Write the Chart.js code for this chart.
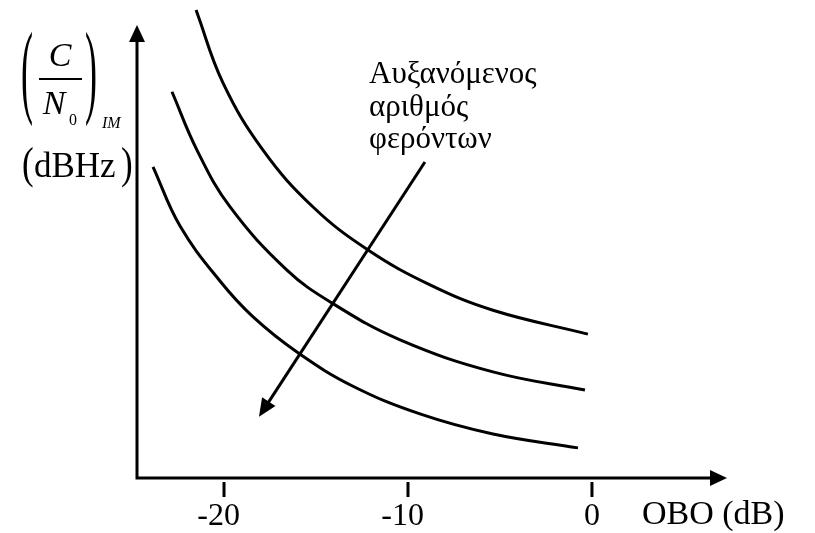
<!DOCTYPE html>
<html>
<head>
<meta charset="utf-8">
<script src="https://cdn.jsdelivr.net/npm/chart.js@4"></script>
<style>
  html, body { margin: 0; padding: 0; background: #fff; }
  canvas { display: block; }
</style>
</head>
<body>
<canvas id="c" width="815" height="533"></canvas>
<script>
// Output back-off (dB) vs (C/N0)_IM for three carrier counts (arbitrary dBHz units)
const oboFew  = [-21.52, -20.05, -17.88, -15.16, -12.17, -8.8, -5.38, -0.22];
const cnFew   = [97.9, 82.6, 68.6, 56.7, 47.7, 40.4, 35.1, 30.1];
const oboMid  = [-22.83, -21.47, -19.67, -16.58, -14.13, -10.43, -5.38, -0.38];
const cnMid   = [80.8, 68.6, 56.7, 43.5, 36.6, 28.9, 22.2, 18.4];
const oboMany = [-23.86, -22.39, -20.22, -18.42, -15.98, -12.99, -9.35, -5.38, -0.76];
const cnMany  = [65.1, 52.7, 41.2, 33.7, 26.2, 19.2, 13.4, 9.2, 6.3];

const tickValues = [-20, -10, 0];
const xTitle = 'OBO (dB)';
const noteLines = ['Αυξανόμενος', 'αριθμός', 'φερόντων'];
// direction arrow: from (OBO, C/N0) start to end
const noteArrowFrom = [-9.08, 66.1];
const noteArrowTo   = [-18.1, 12.8];

const SERIF = '"Liberation Serif", "Times New Roman", serif';

function pts(xs, ys) { return xs.map((x, i) => ({ x: x, y: ys[i] })); }

function arrowHead(ctx, tx, ty, dx, dy, len, half) {
  const bx = tx - dx * len, by = ty - dy * len;
  ctx.beginPath();
  ctx.moveTo(tx, ty);
  ctx.lineTo(bx - dy * half, by + dx * half);
  ctx.lineTo(bx + dy * half, by - dx * half);
  ctx.closePath();
  ctx.fill();
}

const decorations = {
  id: 'decorations',
  afterDraw(chart) {
    const ctx = chart.ctx, a = chart.chartArea;
    const xs = chart.scales.x, ys = chart.scales.y;
    const ox = a.left, oy = a.bottom;
    ctx.save();
    ctx.strokeStyle = '#000';
    ctx.fillStyle = '#000';
    ctx.lineWidth = 3;
    ctx.lineCap = 'butt';

    // axes with arrow heads
    ctx.beginPath();
    ctx.moveTo(ox, oy + 1.5);
    ctx.lineTo(ox, a.top + 40);
    ctx.moveTo(ox - 1.5, oy);
    ctx.lineTo(a.right - 14, oy);
    ctx.stroke();
    arrowHead(ctx, ox, a.top + 25, 0, -1, 17, 8);
    arrowHead(ctx, a.right, oy, 1, 0, 17, 8);

    // tick marks below the axis
    ctx.beginPath();
    xs.ticks.forEach(t => {
      const px = xs.getPixelForValue(t.value);
      ctx.moveTo(px, oy + 4);
      ctx.lineTo(px, oy + 19);
    });
    ctx.stroke();

    // x title
    ctx.font = '34px ' + SERIF;
    ctx.textAlign = 'left';
    ctx.textBaseline = 'alphabetic';
    ctx.fillText(xTitle, 642, 524);

    // y title: (C / N0)_IM and (dBHz)
    ctx.font = 'italic 34px ' + SERIF;
    ctx.textAlign = 'center';
    ctx.fillText('C', 60, 66);
    ctx.fillText('N', 54, 114);
    ctx.font = '16px ' + SERIF;
    ctx.textAlign = 'left';
    ctx.fillText('0', 69, 125);
    ctx.font = 'italic 16px ' + SERIF;
    ctx.fillText('IM', 102, 128);
    ctx.beginPath();
    ctx.lineWidth = 1.8;
    ctx.moveTo(39, 79);
    ctx.lineTo(82, 79);
    ctx.stroke();

    // tall brackets around the fraction
    ctx.font = '36px ' + SERIF;
    ctx.textAlign = 'left';
    ctx.save();
    ctx.translate(0, 30);
    ctx.scale(1, 2.9);
    ctx.textBaseline = 'top';
    ctx.fillText('(', 21, -2);
    ctx.fillText(')', 85, -2);
    ctx.restore();

    ctx.font = '35px ' + SERIF;
    ctx.textBaseline = 'alphabetic';
    ctx.fillText('dBHz', 34, 177);
    ctx.save();
    ctx.translate(0, 147);
    ctx.scale(1, 1.25);
    ctx.textBaseline = 'top';
    ctx.fillText('(', 22, -2);
    ctx.fillText(')', 121, -2);
    ctx.restore();

    // annotation text
    ctx.font = '31px ' + SERIF;
    ctx.textAlign = 'left';
    ctx.textBaseline = 'alphabetic';
    noteLines.forEach((s, i) => ctx.fillText(s, 369, 83 + i * 32.5));

    // annotation arrow
    const x0 = xs.getPixelForValue(noteArrowFrom[0]), y0 = ys.getPixelForValue(noteArrowFrom[1]);
    const x1 = xs.getPixelForValue(noteArrowTo[0]),   y1 = ys.getPixelForValue(noteArrowTo[1]);
    const L = Math.hypot(x1 - x0, y1 - y0), dx = (x1 - x0) / L, dy = (y1 - y0) / L;
    ctx.lineWidth = 3;
    ctx.beginPath();
    ctx.moveTo(x0, y0);
    ctx.lineTo(x1 - dx * 14, y1 - dy * 14);
    ctx.stroke();
    arrowHead(ctx, x1, y1, dx, dy, 18, 8);

    ctx.restore();
  }
};

const lineStyle = {
  borderColor: '#000',
  borderWidth: 3,
  pointRadius: 0,
  fill: false,
  tension: 0.4
};

new Chart(document.getElementById('c'), {
  type: 'line',
  data: {
    datasets: [
      Object.assign({ label: 'few', data: pts(oboFew, cnFew) }, lineStyle),
      Object.assign({ label: 'mid', data: pts(oboMid, cnMid) }, lineStyle),
      Object.assign({ label: 'many', data: pts(oboMany, cnMany) }, lineStyle)
    ]
  },
  options: {
    responsive: false,
    animation: false,
    events: [],
    layout: { padding: { left: 137, right: 88, top: 0, bottom: 0 } },
    plugins: { legend: { display: false }, tooltip: { enabled: false } },
    scales: {
      x: {
        type: 'linear',
        min: -24.73,
        max: 7.34,
        afterBuildTicks(scale) { scale.ticks = tickValues.map(v => ({ value: v })); },
        afterFit(scale) { scale.height = 55; },
        grid: { display: false, drawTicks: false },
        border: { display: false },
        ticks: {
          color: '#000',
          padding: 19,
          font: { family: SERIF, size: 32 },
          // digits sit centred on the tick; the minus sign hangs to the left
          callback: v => v < 0 ? String(v) + '\u2004' : String(v)
        }
      },
      y: {
        type: 'linear',
        display: false,
        min: 0,
        max: 100
      }
    }
  },
  plugins: [decorations]
});
</script>
</body>
</html>
